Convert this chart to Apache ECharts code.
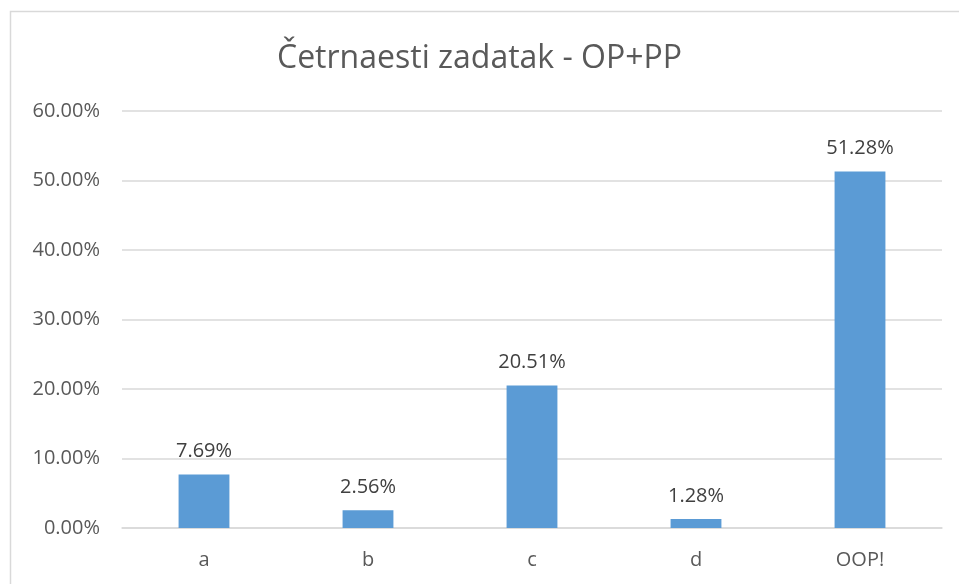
<!DOCTYPE html>
<html><head><meta charset="utf-8">
<script src="https://cdn.jsdelivr.net/npm/echarts@6/dist/echarts.min.js"></script>
<style>html,body{margin:0;padding:0;background:#fff}#c{width:959px;height:584px}</style>
</head><body><div id="c"></div>
<script>
const title = 'Četrnaesti zadatak - OP+PP';
const categories = ['a', 'b', 'c', 'd', 'OOP!'];
const values = [7.69, 2.56, 20.51, 1.28, 51.28];
const yTicks = [0, 10, 20, 30, 40, 50, 60];

const chart = echarts.init(document.getElementById('c'));
const font = '"Open Sans", "Noto Sans", sans-serif';
chart.setOption({
  backgroundColor: '#fff',
  animation: false,
  graphic: [{
    type: 'rect', shape: {x: 10.5, y: 11.5, width: 1000, height: 700},
    style: {fill: 'none', stroke: '#d9d9d9', lineWidth: 1.5}, silent: true
  }],
  title: {
    text: title, left: 'center', top: 38,
    textStyle: {fontFamily: font, fontSize: 32, fontWeight: 'normal', color: '#595959'}
  },
  grid: {left: 122, right: 17, top: 111, bottom: 56, containLabel: false},
  xAxis: {
    type: 'category', data: categories,
    axisLine: {lineStyle: {color: '#d9d9d9', width: 1.5}},
    axisTick: {show: false},
    axisLabel: {color: '#595959', fontFamily: font, fontSize: 20, margin: 22}
  },
  yAxis: {
    type: 'value', min: yTicks[0], max: yTicks[yTicks.length - 1], interval: 10,
    axisLine: {show: false}, axisTick: {show: false},
    splitLine: {lineStyle: {color: '#d9d9d9', width: 1.5}},
    axisLabel: {color: '#595959', fontFamily: font, fontSize: 20, margin: 22,
      formatter: v => v.toFixed(2) + '%'}
  },
  series: [{
    type: 'bar', data: values, barWidth: '31%',
    itemStyle: {color: '#5b9bd5'},
    label: {show: true, position: 'top', distance: 13, color: '#404040',
      fontFamily: font, fontSize: 20, formatter: p => p.value.toFixed(2) + '%'}
  }]
});
</script></body></html>
